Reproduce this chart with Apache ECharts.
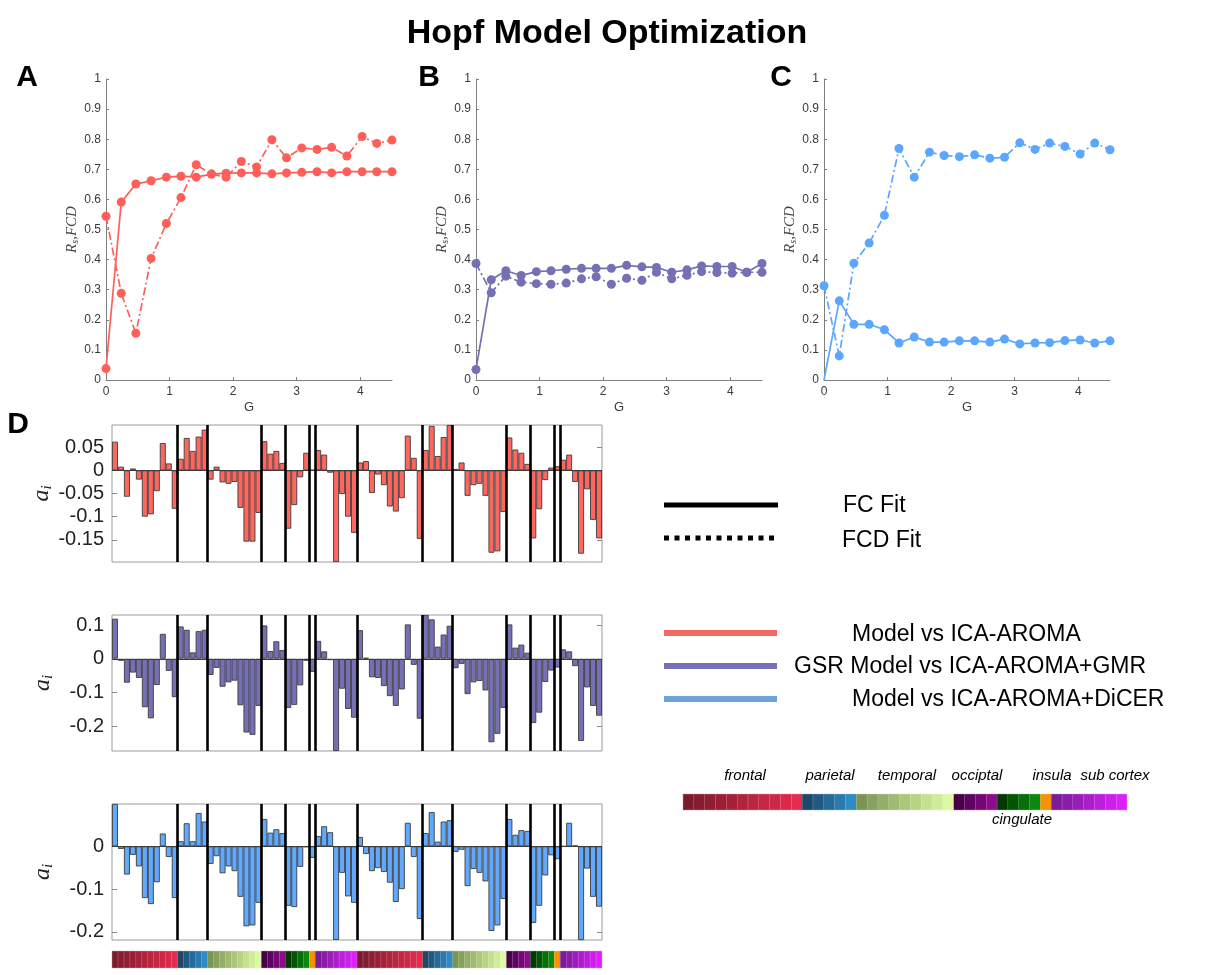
<!DOCTYPE html>
<html>
<head>
<meta charset="utf-8">
<script src="https://cdn.jsdelivr.net/npm/echarts@6/dist/echarts.min.js"></script>
<style>
html,body{margin:0;padding:0;background:#fff;}
#chart{width:1214px;height:975px;}
</style>
</head>
<body>
<div id="chart"></div>
<script>
// Global coupling values G sampled in the parameter sweep
const G = [0, 0.24, 0.47, 0.71, 0.95, 1.18, 1.42, 1.66, 1.89, 2.13, 2.37, 2.61, 2.84, 3.08, 3.32, 3.55, 3.79, 4.03, 4.26, 4.5];

// Panel A: Model vs ICA-AROMA
const fcA  = [0.038, 0.591, 0.651, 0.662, 0.674, 0.677, 0.674, 0.684, 0.687, 0.688, 0.688, 0.685, 0.688, 0.690, 0.692, 0.688, 0.692, 0.692, 0.692, 0.692];
const fcdA = [0.544, 0.288, 0.155, 0.404, 0.520, 0.606, 0.715, 0.684, 0.674, 0.726, 0.708, 0.798, 0.738, 0.771, 0.766, 0.773, 0.744, 0.809, 0.786, 0.797];
// Panel B: GSR Model vs ICA-AROMA+GMR
const fcB  = [0.035, 0.333, 0.363, 0.347, 0.360, 0.363, 0.368, 0.371, 0.371, 0.371, 0.381, 0.376, 0.374, 0.358, 0.366, 0.379, 0.377, 0.377, 0.358, 0.387];
const fcdB = [0.387, 0.290, 0.345, 0.325, 0.320, 0.318, 0.322, 0.336, 0.343, 0.318, 0.338, 0.331, 0.358, 0.336, 0.348, 0.360, 0.357, 0.355, 0.358, 0.358];
// Panel C: Model vs ICA-AROMA+DiCER
const fcC  = [0.000, 0.263, 0.185, 0.185, 0.167, 0.123, 0.143, 0.126, 0.126, 0.130, 0.130, 0.126, 0.136, 0.120, 0.123, 0.124, 0.131, 0.133, 0.123, 0.130];
const fcdC = [0.313, 0.080, 0.388, 0.455, 0.547, 0.769, 0.674, 0.757, 0.746, 0.742, 0.748, 0.737, 0.740, 0.788, 0.766, 0.787, 0.776, 0.751, 0.787, 0.765];

// Panel D: regional bifurcation parameters a_i (left hemisphere, then right hemisphere)
const aAroma = [
  0.062, 0.008, -0.057, 0.004, -0.020, -0.100, -0.095, -0.045, 0.059, 0.015, -0.083,
  0.025, 0.070, 0.042, 0.073, 0.088,
  -0.020, 0.008, -0.026, -0.029, -0.025, -0.081, -0.154, -0.154, -0.092,
  0.063, 0.036, 0.042, 0.016,
  -0.126, -0.075, -0.015, 0.038,
  0.001,
  0.044, 0.034, -0.005, -0.198, -0.051, -0.100, -0.135,
  0.017, 0.020, -0.049, -0.009, -0.032, -0.078, -0.089, -0.060, 0.075, 0.027, -0.148,
  0.044, 0.096, 0.031, 0.072, 0.098,
  0.003, 0.017, -0.055, -0.032, -0.029, -0.055, -0.178, -0.175, -0.090,
  0.071, 0.045, 0.038, 0.014,
  -0.147, -0.084, -0.021, 0.006,
  0.009,
  0.023, 0.034, -0.025, -0.180, -0.041, -0.107, -0.147
];
const aGmr = [
  0.119, -0.006, -0.071, -0.041, -0.057, -0.144, -0.177, -0.078, 0.074, -0.036, -0.114,
  0.096, 0.086, 0.019, 0.082, 0.086,
  -0.048, -0.027, -0.083, -0.070, -0.065, -0.138, -0.219, -0.226, -0.140,
  0.099, 0.023, 0.052, 0.026,
  -0.146, -0.137, -0.079, -0.006,
  -0.039,
  0.053, 0.022, -0.004, -0.274, -0.089, -0.149, -0.175,
  0.085, 0.003, -0.055, -0.057, -0.081, -0.111, -0.140, -0.091, 0.102, -0.018, -0.178,
  0.130, 0.117, 0.036, 0.072, 0.098,
  -0.028, -0.015, -0.105, -0.070, -0.066, -0.094, -0.248, -0.223, -0.146,
  0.102, 0.033, 0.042, 0.018,
  -0.191, -0.160, -0.069, -0.035,
  -0.026,
  0.028, 0.022, -0.022, -0.244, -0.085, -0.140, -0.169
];
const aDicer = [
  0.099, -0.006, -0.066, -0.020, -0.047, -0.121, -0.135, -0.084, 0.030, -0.025, -0.121,
  0.012, 0.054, 0.012, 0.078, 0.058,
  -0.041, -0.023, -0.063, -0.047, -0.058, -0.118, -0.187, -0.185, -0.132,
  0.064, 0.032, 0.040, 0.031,
  -0.139, -0.142, -0.048, -0.002,
  -0.027,
  0.024, 0.047, 0.033, -0.219, -0.062, -0.117, -0.132,
  0.022, -0.018, -0.058, -0.051, -0.060, -0.085, -0.130, -0.100, 0.055, -0.025, -0.170,
  0.031, 0.080, 0.011, 0.058, 0.061,
  -0.013, -0.008, -0.093, -0.053, -0.062, -0.082, -0.198, -0.185, -0.123,
  0.064, 0.027, 0.038, 0.036,
  -0.179, -0.139, -0.068, -0.021,
  -0.030,
  0.000, 0.055, 0.002, -0.219, -0.052, -0.118, -0.141
];

// Brain regions (per hemisphere) and their sizes
const regionNames = ['frontal', 'parietal', 'temporal', 'occiptal', 'cingulate', 'insula', 'sub cortex'];
const regionSizes = [11, 5, 9, 4, 4, 1, 7];

// Tick labels
const lineYTicks = [0, 0.1, 0.2, 0.3, 0.4, 0.5, 0.6, 0.7, 0.8, 0.9, 1];
const lineXTicks = [0, 1, 2, 3, 4];
const barTicks = [
  [-0.15, -0.1, -0.05, 0, 0.05],
  [-0.2, -0.1, 0, 0.1],
  [-0.2, -0.1, 0]
];
const barRanges = [[-0.198, 0.098], [-0.274, 0.13], [-0.219, 0.099]];

// ---------- styling ----------
const FONT = 'Liberation Sans, Arial, Helvetica, sans-serif';
const SERIF = 'Liberation Serif, DejaVu Serif, serif';
const lineColors = ['#ff5f58', '#7470b3', '#5ba6ff'];
const barColors = ['#ff665e', '#7570b6', '#60a9ff'];
const regionColorStops = [
  ['#7a1a2d', '#e42c4c'],
  ['#1d4868', '#2f8bc6'],
  ['#7b9456', '#ddf9a2'],
  ['#480048', '#8c0c8c'],
  ['#003a00', '#0c880c'],
  ['#f59300', '#f59300'],
  ['#781c98', '#dc20fc']
];

function hexToRgb(h) {
  const n = parseInt(h.slice(1), 16);
  return [(n >> 16) & 255, (n >> 8) & 255, n & 255];
}
function mix(a, b, t) {
  const p = hexToRgb(a), q = hexToRgb(b);
  return 'rgb(' + p.map((v, i) => Math.round(v + (q[i] - v) * t)).join(',') + ')';
}
// one colour per region cell of a hemisphere
const hemiColors = [];
regionSizes.forEach((n, r) => {
  for (let k = 0; k < n; k++) {
    const t = n > 1 ? k / (n - 1) : 0;
    hemiColors.push(mix(regionColorStops[r][0], regionColorStops[r][1], t));
  }
});
const bothColors = hemiColors.concat(hemiColors);

// boundaries between regions (both hemispheres)
const boundaries = [];
let acc = 0;
for (let h = 0; h < 2; h++) {
  regionSizes.forEach(n => { acc += n; boundaries.push(acc); });
}
const nCells = acc;
boundaries.pop(); // right edge is the frame

const lineGrids = [
  { left: 106, top: 79, width: 286, height: 301 },
  { left: 476, top: 79, width: 286, height: 301 },
  { left: 824, top: 79, width: 286, height: 301 }
];
const barGrids = [
  { left: 112, top: 425, width: 490, height: 137 },
  { left: 112, top: 615, width: 490, height: 136 },
  { left: 112, top: 804, width: 490, height: 136 }
];
const cbarGrid = { left: 112, top: 951, width: 490, height: 17 };
const regionGrid = { left: 683, top: 794, width: 444, height: 16 };

const grid = [];
lineGrids.forEach(g => grid.push(Object.assign({ containLabel: false }, g)));
barGrids.forEach(g => grid.push(Object.assign({ containLabel: false, show: true, borderColor: '#9c9c9c', borderWidth: 1, backgroundColor: '#fff' }, g)));
grid.push(Object.assign({ containLabel: false }, cbarGrid));
grid.push(Object.assign({ containLabel: false }, regionGrid));

const xAxis = [];
const yAxis = [];
// line-chart axes (0..2)
for (let i = 0; i < 3; i++) {
  xAxis.push({
    type: 'value', gridIndex: i, min: 0, max: 4.5,
    axisLine: { show: true, lineStyle: { color: '#808080', width: 1 } },
    axisTick: { show: true, inside: true, length: 3, customValues: lineXTicks, lineStyle: { color: '#808080' } },
    axisLabel: { customValues: lineXTicks, color: '#3a3a3a', fontSize: 12, margin: 6, fontFamily: FONT },
    splitLine: { show: false },
    name: 'G', nameLocation: 'middle', nameGap: 21,
    nameTextStyle: { fontSize: 13, color: '#3a3a3a', fontFamily: FONT }
  });
  yAxis.push({
    type: 'value', gridIndex: i, min: 0, max: 1,
    axisLine: { show: true, lineStyle: { color: '#808080', width: 1 } },
    axisTick: { show: true, inside: true, length: 3, customValues: lineYTicks, lineStyle: { color: '#808080' } },
    axisLabel: { customValues: lineYTicks, color: '#3a3a3a', fontSize: 12, margin: 5, fontFamily: FONT },
    splitLine: { show: false },
    name: '{r|R}{s|s}{r|,FCD}', nameLocation: 'middle', nameGap: 24, nameRotate: 90,
    nameTextStyle: {
      rich: {
        r: { fontFamily: SERIF, fontStyle: 'italic', fontSize: 15, color: '#444', lineHeight: 17 },
        s: { fontFamily: SERIF, fontStyle: 'italic', fontSize: 10, color: '#444', lineHeight: 17, verticalAlign: 'bottom', padding: [5, 0, 0, 0] }
      }
    }
  });
}
// bar-chart category axes (3..5)
const cellIds = aAroma.map((_, i) => String(i + 1));
for (let k = 0; k < 3; k++) {
  xAxis.push({
    type: 'category', gridIndex: 3 + k, data: cellIds, boundaryGap: true,
    axisLine: { show: false }, axisTick: { show: false }, axisLabel: { show: false }, splitLine: { show: false }
  });
}
// hidden value axes for region separators (6..8)
for (let k = 0; k < 3; k++) {
  xAxis.push({ type: 'value', gridIndex: 3 + k, min: 0, max: nCells, show: false });
}
// bar-chart y axes left (3..5) and mirrored right (6..8)
for (let k = 0; k < 3; k++) {
  yAxis.push({
    type: 'value', gridIndex: 3 + k, min: barRanges[k][0], max: barRanges[k][1],
    axisLine: { show: false },
    axisTick: { show: true, inside: true, length: 5, customValues: barTicks[k], lineStyle: { color: '#8a8a8a' } },
    axisLabel: { customValues: barTicks[k], color: '#222', fontSize: 20, margin: 8, fontFamily: FONT },
    splitLine: { show: false },
    name: '{a|a}{i|i}', nameLocation: 'middle', nameGap: 56, nameRotate: 90,
    nameTextStyle: {
      rich: {
        a: { fontFamily: SERIF, fontStyle: 'italic', fontSize: 24, color: '#222', lineHeight: 26 },
        i: { fontFamily: SERIF, fontStyle: 'italic', fontSize: 15, color: '#222', lineHeight: 26, verticalAlign: 'bottom', padding: [8, 0, 0, 0] }
      }
    }
  });
}
for (let k = 0; k < 3; k++) {
  yAxis.push({
    type: 'value', gridIndex: 3 + k, position: 'right', min: barRanges[k][0], max: barRanges[k][1],
    axisLine: { show: false },
    axisTick: { show: true, inside: true, length: 5, customValues: barTicks[k], lineStyle: { color: '#8a8a8a' } },
    axisLabel: { show: false }, splitLine: { show: false }
  });
}
// colour strips (x 9,10 / y 9,10)
xAxis.push({ type: 'category', gridIndex: 6, data: cellIds, show: false });
xAxis.push({ type: 'category', gridIndex: 7, data: cellIds.slice(0, nCells / 2), show: false });
yAxis.push({ type: 'value', gridIndex: 6, min: 0, max: 1, show: false });
yAxis.push({ type: 'value', gridIndex: 7, min: 0, max: 1, show: false });

const series = [];
const fcSets = [fcA, fcB, fcC];
const fcdSets = [fcdA, fcdB, fcdC];
for (let i = 0; i < 3; i++) {
  series.push({
    type: 'line', name: 'FCD Fit', xAxisIndex: i, yAxisIndex: i,
    data: G.map((g, j) => [g, fcdSets[i][j]]),
    symbol: 'circle', symbolSize: 9, color: lineColors[i],
    lineStyle: { width: 1.7, color: lineColors[i], type: [8, 3, 2, 3] },
    itemStyle: { color: lineColors[i] }
  });
  series.push({
    type: 'line', name: 'FC Fit', xAxisIndex: i, yAxisIndex: i,
    data: G.map((g, j) => {
      const v = fcSets[i][j];
      return (v === 0) ? { value: [g, v], symbol: 'none' } : [g, v];
    }),
    symbol: 'circle', symbolSize: 9, color: lineColors[i],
    lineStyle: { width: 1.7, color: lineColors[i] },
    itemStyle: { color: lineColors[i] }
  });
}
const barSets = [aAroma, aGmr, aDicer];
for (let k = 0; k < 3; k++) {
  series.push({
    type: 'bar', xAxisIndex: 3 + k, yAxisIndex: 3 + k,
    data: barSets[k], barCategoryGap: '0%',
    itemStyle: { color: barColors[k], borderColor: '#3c3c3c', borderWidth: 0.9 }
  });
  series.push({
    type: 'line', xAxisIndex: 6 + k, yAxisIndex: 3 + k, data: [],
    markLine: {
      silent: true, symbol: 'none', label: { show: false }, animation: false,
      data: [{ yAxis: 0, lineStyle: { color: '#3c3c3c', width: 1, type: 'solid' } }]
        .concat(boundaries.map(b => ({ xAxis: b, lineStyle: { color: '#000', width: 2.6, type: 'solid' } })))
    }
  });
}
series.push({
  type: 'bar', xAxisIndex: 9, yAxisIndex: 9, barCategoryGap: '0%',
  data: bothColors.map(c => ({ value: 1, itemStyle: { color: c, borderColor: c, borderWidth: 0.3 } }))
});
series.push({
  type: 'bar', xAxisIndex: 10, yAxisIndex: 10, barCategoryGap: '0%',
  data: hemiColors.map(c => ({ value: 1, itemStyle: { color: c, borderColor: c, borderWidth: 0.3 } }))
});

// panel letters, legend keys and region labels
function label(text, x, y, font, align) {
  return { type: 'text', x: x, y: y, silent: true, style: { text: text, fill: '#000', font: font, align: align || 'center', verticalAlign: 'middle' } };
}
function key(x1, x2, y, color, width, dash) {
  return { type: 'line', silent: true, shape: { x1: x1, y1: y, x2: x2, y2: y }, style: { stroke: color, lineWidth: width, lineDash: dash || null } };
}
const legendFont = '23px ' + FONT;
const regionLabelFont = 'italic 15px ' + FONT;
const graphic = [
  label('A', 27, 78, 'bold 30px ' + FONT),
  label('B', 429, 78, 'bold 30px ' + FONT),
  label('C', 781, 78, 'bold 30px ' + FONT),
  label('D', 18, 425, 'bold 30px ' + FONT),
  key(664, 778, 505, '#000', 5),
  key(664, 778, 538, '#000', 5, [5, 5.5]),
  label('FC Fit', 843, 506, legendFont, 'left'),
  label('FCD Fit', 842, 541, legendFont, 'left'),
  key(664, 777, 633, '#f26a62', 6),
  key(664, 777, 666, '#7571b6', 6),
  key(664, 777, 699, '#6ea4da', 6),
  label('Model vs ICA-AROMA', 852, 635, legendFont, 'left'),
  label('GSR Model vs ICA-AROMA+GMR', 794, 667, legendFont, 'left'),
  label('Model vs ICA-AROMA+DiCER', 852, 700, legendFont, 'left'),
  label(regionNames[0], 745, 776, regionLabelFont),
  label(regionNames[1], 830, 776, regionLabelFont),
  label(regionNames[2], 907, 776, regionLabelFont),
  label(regionNames[3], 977, 776, regionLabelFont),
  label(regionNames[5], 1052, 776, regionLabelFont),
  label(regionNames[6], 1115, 776, regionLabelFont),
  label(regionNames[4], 1022, 820, regionLabelFont)
];

const chart = echarts.init(document.getElementById('chart'), null, { renderer: 'canvas' });
chart.setOption({
  animation: false,
  backgroundColor: '#fff',
  title: {
    text: 'Hopf Model Optimization', left: 'center', top: 12,
    textStyle: { fontSize: 34, fontWeight: 'bold', fontFamily: FONT, color: '#000' }
  },
  grid: grid,
  xAxis: xAxis,
  yAxis: yAxis,
  series: series,
  graphic: graphic
});
</script>
</body>
</html>
